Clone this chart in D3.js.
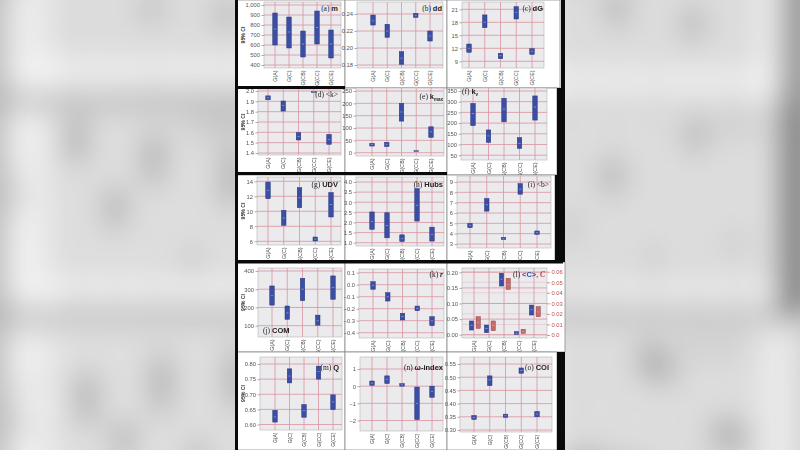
<!DOCTYPE html>
<html><head><meta charset="utf-8">
<script src="https://cdn.jsdelivr.net/npm/d3@7"></script>
<style>body{margin:0;background:#c8c8c8;overflow:hidden} svg{display:block}</style>
</head><body>
<svg id="c" width="800" height="450"></svg>
<script>
// ---------------- DATA ----------------
const categories = ["G(A)","G(C)","G(CB)","G(CC)","G(CE)"];

const mLow=[600,570,480,610,470], mHigh=[920,880,740,940,750], mMed=[760,730,610,775,610];
const mTicks=[400,500,600,700,800,900,1000];
const ddLow=[0.227,0.2126,0.1808,0.2361,0.2082], ddHigh=[0.2388,0.2279,0.1956,0.2408,0.22], ddMed=[0.232,0.220,0.188,0.2385,0.214];
const ddTicks=[0.18,0.20,0.22,0.24];
const dGLow=[11.08,16.75,9.6,18.76,10.6], dGHigh=[12.99,19.7,10.85,21.6,11.9], dGMed=[12,18,10.3,20.3,11.3];
const dGTicks=[9,12,15,18,21];
const kLow=[1.915,1.806,1.526,1.99,1.484], kHigh=[1.953,1.903,1.597,1.995,1.58], kMed=[1.935,1.86,1.56,1.993,1.53];
const kTicks=[1.4,1.5,1.6,1.7,1.8,1.9,2.0];
const kmaxLow=[27,25,128,5,62], kmaxHigh=[38,42,200,8,105], kmaxMed=[33,34,165,7,85];
const kmaxTicks=[0,50,100,150,200,250];
const kvLow=[188,110,206,82,214], kvHigh=[292,168,316,132,327], kvMed=[245,140,265,105,275];
const kvTicks=[50,100,150,200,250,300,350];
const udvLow=[11.68,8.13,10.48,6.04,9.24], udvHigh=[13.9,10.13,13.15,6.57,12.5], udvMed=[12.8,9.1,11.8,6.3,10.9];
const udvTicks=[6,8,10,12,14];
const hubsLow=[1.66,1.24,1.06,2.07,1.08], hubsHigh=[2.52,2.48,1.39,3.67,1.77], hubsMed=[2.05,1.85,1.2,2.85,1.4];
const hubsTicks=[1.0,1.5,2.0,2.5,3.0,3.5,4.0];
const bLow=[4.58,6.18,3.42,7.82,3.93], bHigh=[4.99,7.4,3.64,8.84,4.26], bMed=[4.8,6.8,3.5,8.3,4.1];
const bTicks=[3,4,5,6,7,8,9];
const comLow=[213,135,237,103,245], comHigh=[318,208,360,158,373], comMed=[265,170,300,127,310];
const comTicks=[100,200,300,400];
const rLow=[-0.038,-0.136,-0.294,-0.217,-0.342], rHigh=[0.025,-0.067,-0.238,-0.178,-0.267], rMed=[-0.005,-0.1,-0.265,-0.197,-0.3];
const rTicks=[-0.4,-0.3,-0.2,-0.1,0.0,0.1];
const cAvgLow=[0.015,0.0065,0.156,0.001,0.063], cAvgHigh=[0.044,0.031,0.197,0.01,0.095], cAvgMed=[0.03,0.02,0.178,0.005,0.08];
const cAvgTicks=[0.00,0.05,0.10,0.15,0.20];
const cGlobLow=[0.0063,0.0041,0.0433,0.0016,0.0173], cGlobHigh=[0.0173,0.0133,0.0537,0.0054,0.0268], cGlobMed=[0.012,0.009,0.048,0.0035,0.022];
const cGlobTicks=[0.0,0.01,0.02,0.03,0.04,0.05,0.06];
const qLow=[0.608,0.7375,0.624,0.75,0.649], qHigh=[0.647,0.784,0.666,0.793,0.698], qMed=[0.625,0.76,0.645,0.775,0.675];
const qTicks=[0.60,0.65,0.70,0.75,0.80];
const wLow=[0.05,0.15,0.0,-1.95,-0.65], wHigh=[0.3,0.6,0.15,-0.05,0.0], wMed=[0.17,0.4,0.08,-1.0,-0.3];
const wTicks=[-2,-1,0,1];
const coiLow=[0.34,0.468,0.348,0.515,0.35], coiHigh=[0.355,0.505,0.36,0.535,0.37], coiMed=[0.347,0.49,0.354,0.525,0.36];
const coiTicks=[0.30,0.35,0.40,0.45,0.50,0.55];

// ---------------- PANELS ----------------
const f2=d3.format(".2f"), f1=d3.format(".1f"), f0=d3.format(",");
const panels=[
 {id:"a",title:[["(a) ","p"],["m","b"]],low:mLow,high:mHigh,med:mMed,ticks:mTicks,fmt:f0},
 {id:"b",title:[["(b) ","p"],["dd","b"]],low:ddLow,high:ddHigh,med:ddMed,ticks:ddTicks,fmt:f2},
 {id:"c",title:[["(c) ","p"],["dG","b"]],low:dGLow,high:dGHigh,med:dGMed,ticks:dGTicks,fmt:f0},
 {id:"d",title:[["(d) ","p"],["<k>","p"]],low:kLow,high:kHigh,med:kMed,ticks:kTicks,fmt:f1},
 {id:"e",title:[["(e) ","p"],["k","b"],["max","sub"]],low:kmaxLow,high:kmaxHigh,med:kmaxMed,ticks:kmaxTicks,fmt:f0},
 {id:"f",title:[["(f) ","p"],["k","b"],["v","sub"]],low:kvLow,high:kvHigh,med:kvMed,ticks:kvTicks,fmt:f0},
 {id:"g",title:[["(g) ","p"],["UDV","b"]],low:udvLow,high:udvHigh,med:udvMed,ticks:udvTicks,fmt:f0},
 {id:"h",title:[["(h) ","p"],["Hubs","b"]],low:hubsLow,high:hubsHigh,med:hubsMed,ticks:hubsTicks,fmt:f1},
 {id:"i",title:[["(i) ","p"],["<b>","p"]],low:bLow,high:bHigh,med:bMed,ticks:bTicks,fmt:f0},
 {id:"j",title:[["(j) ","p"],["COM","b"]],low:comLow,high:comHigh,med:comMed,ticks:comTicks,fmt:f0},
 {id:"k",title:[["(k) ","p"],["r","bi"]],low:rLow,high:rHigh,med:rMed,ticks:rTicks,fmt:f1},
 {id:"l",title:[["(l) ","p"],["<C>","blue"],[", ","p"],["C","red"]],low:cAvgLow,high:cAvgHigh,med:cAvgMed,ticks:cAvgTicks,fmt:f2,
   low2:cGlobLow,high2:cGlobHigh,med2:cGlobMed,ticks2:cGlobTicks},
 {id:"m",title:[["(m) ","p"],["Q","b"]],low:qLow,high:qHigh,med:qMed,ticks:qTicks,fmt:f2},
 {id:"n",title:[["(n) ","p"],["ω-index","b"]],low:wLow,high:wHigh,med:wMed,ticks:wTicks,fmt:f0},
 {id:"o",title:[["(o) ","p"],["COI","b"]],low:coiLow,high:coiHigh,med:coiMed,ticks:coiTicks,fmt:f2}
];

// ---------------- LAYOUT (pixels) ----------------
const layout={
 a:{tile:[237,0,345,88],px:[264,341],py:[2,68],ty:[65,5],cx:[275,331],tt:[338,11,"end"],yl:true},
 b:{tile:[345,0,447,88],px:[357,443],py:[2,68],ty:[65,14],cx:[373,430],tt:[442,11,"end"]},
 c:{tile:[447,0,560,88],px:[462,544],py:[2,68],ty:[61.3,9.3],cx:[469,532],tt:[543,11,"end"]},
 d:{tile:[237,88,345,175],px:[258,341],py:[89,155],ty:[153,91],cx:[268,329],tt:[338,97,"end"],yl:true},
 e:{tile:[345,88,447,175],px:[356,444],py:[88,156],ty:[152.7,91],cx:[372,431],tt:[443,99,"end"]},
 f:{tile:[447,88,557,175],px:[461,547],py:[88,160],ty:[155.2,91],cx:[473,535],tt:[462,94,"start"]},
 g:{tile:[237,175,345,262],px:[257,341],py:[177,245],ty:[241.3,181.3],cx:[268,331],tt:[338,187,"end"],yl:true},
 h:{tile:[345,175,447,262],px:[356,444],py:[177,246],ty:[242.7,182],cx:[372,432],tt:[443,187,"end"]},
 i:{tile:[447,175,555,262],px:[457,551],py:[176,248],ty:[244,182],cx:[470,537],tt:[549,187,"end"]},
 j:{tile:[237,262,345,352],px:[258,342],py:[268,337],ty:[325.7,271],cx:[272,333],tt:[263,333,"start"],yl:true},
 k:{tile:[345,262,447,352],px:[359,444],py:[269,338],ty:[332.7,272.7],cx:[373,432],tt:[443,277,"end"]},
 l:{tile:[447,262,565,352],px:[462,547],py:[268,338],ty:[334.7,272.3],ty2:[335,271.7],cx:[474,534],tt:[545,277,"end"]},
 m:{tile:[237,352,345,450],px:[260,342],py:[357,430],ty:[424.5,364],cx:[275,333],tt:[339,370,"end"],yl:true},
 n:{tile:[345,352,447,450],px:[360,443],py:[357,431],ty:[420.5,369],cx:[372,432],tt:[443,370,"end"]},
 o:{tile:[447,352,557,450],px:[460,552],py:[357,432],ty:[430,364],cx:[474,537],tt:[549,370,"end"]}
};

// ---------------- DRAW ----------------
const svg=d3.select("#c");
const defs=svg.append("defs");
const flt=defs.append("filter").attr("id","bl").attr("x","-10%").attr("y","-10%").attr("width","120%").attr("height","120%");
flt.append("feGaussianBlur").attr("stdDeviation",15).attr("result","b");
flt.append("feColorMatrix").attr("in","b").attr("type","saturate").attr("values","0").attr("result","s");
const ct=flt.append("feComponentTransfer").attr("in","s");
["feFuncR","feFuncG","feFuncB"].forEach(n=>ct.append(n).attr("type","linear").attr("slope",0.8).attr("intercept",0.1));

svg.append("rect").attr("width",800).attr("height",450).attr("fill","#c8c8c8");
const bg=svg.append("g").attr("filter","url(#bl)");
bg.append("use").attr("href","#fig").attr("transform","translate(400,225) scale(2.45) translate(-400,-225)");

const fig=svg.append("g").attr("id","fig");
fig.append("rect").attr("x",237).attr("y",0).attr("width",328).attr("height",450).attr("fill","#ffffff");

const FONT="'Liberation Sans', Arial, sans-serif";
const BOX="#3b4ea3", BOXS="#26367f", MED="#a9b8e6", RED="#c46a6a", REDS="#9a3f3f", GRID="#d9939e";

function boxes(g,x,y,low,high,med,fill,stroke,off,w){
  g.selectAll(null).data(categories).join("rect")
    .attr("x",d=>x(d)+off-w/2).attr("width",w)
    .attr("y",(d,i)=>y(high[i]))
    .attr("height",(d,i)=>Math.max(0.8,y(low[i])-y(high[i])))
    .attr("fill",fill).attr("stroke",stroke).attr("stroke-width",0.5);
  g.selectAll(null).data(categories).join("line")
    .attr("x1",d=>x(d)+off-1.1).attr("x2",d=>x(d)+off+1.1)
    .attr("y1",(d,i)=>y(med[i])).attr("y2",(d,i)=>y(med[i]))
    .attr("stroke",MED).attr("stroke-width",0.6);
}

panels.forEach(p=>{
  const L=layout[p.id];
  const g=fig.append("g");
  const [tx0,ty0,tx1,ty1]=L.tile;
  g.append("rect").attr("x",tx0).attr("y",ty0).attr("width",tx1-tx0).attr("height",ty1-ty0)
    .attr("fill","#fff").attr("stroke","#8a8a8a").attr("stroke-width",0.8);
  const x=d3.scalePoint().domain(categories).range(L.cx);
  const y=d3.scaleLinear().domain([p.ticks[0],p.ticks[p.ticks.length-1]]).range(L.ty);
  g.append("rect").attr("x",L.px[0]).attr("y",L.py[0]).attr("width",L.px[1]-L.px[0]).attr("height",L.py[1]-L.py[0])
    .attr("fill","#ebebee").attr("stroke","#b4b4b4").attr("stroke-width",0.6);
  g.selectAll(null).data(p.ticks).join("line")
    .attr("x1",L.px[0]).attr("x2",L.px[1]).attr("y1",d=>y(d)).attr("y2",d=>y(d))
    .attr("stroke",GRID).attr("stroke-width",0.8);
  let y2=null;
  if(p.ticks2){
    y2=d3.scaleLinear().domain([p.ticks2[0],p.ticks2[p.ticks2.length-1]]).range(L.ty2);
    g.selectAll(null).data(p.ticks2).join("line")
      .attr("x1",L.px[0]).attr("x2",L.px[1]).attr("y1",d=>y2(d)).attr("y2",d=>y2(d))
      .attr("stroke",GRID).attr("stroke-width",0.5).attr("stroke-opacity",0.6);
  }
  g.selectAll(null).data(categories).join("line")
    .attr("x1",d=>x(d)).attr("x2",d=>x(d)).attr("y1",L.py[0]).attr("y2",L.py[1])
    .attr("stroke",GRID).attr("stroke-width",0.8);
  const ax=g.append("g").attr("transform",`translate(${L.px[0]},0)`)
    .call(d3.axisLeft(y).tickValues(p.ticks).tickFormat(p.fmt).tickSize(2.5).tickPadding(1.5));
  ax.select(".domain").remove();
  ax.selectAll("line").attr("stroke","#777").attr("stroke-width",0.6);
  ax.selectAll("text").attr("font-family",FONT).attr("font-size",5.8).attr("fill","#555");
  if(y2){
    const ax2=g.append("g").attr("transform",`translate(${L.px[1]},0)`)
      .call(d3.axisRight(y2).tickValues(p.ticks2).tickFormat(d=>d===0?"0.0":f2(d)).tickSize(3).tickPadding(1.5));
    ax2.select(".domain").remove();
    ax2.selectAll("line").attr("stroke",RED).attr("stroke-width",0.7);
    ax2.selectAll("text").attr("font-family",FONT).attr("font-size",5.8).attr("fill","#c0504d");
    boxes(g,x,y,p.low,p.high,p.med,BOX,BOXS,-2.5,4.2);
    boxes(g,x,y2,p.low2,p.high2,p.med2,RED,REDS,4.2,4.2);
  } else {
    boxes(g,x,y,p.low,p.high,p.med,BOX,BOXS,0,4.5);
  }
  const lab=L.py[1]>425?5.0:5.3;
  g.selectAll(null).data(categories).join("text")
    .attr("transform",d=>`translate(${x(d)+2},${L.py[1]+2.5}) rotate(-90)`)
    .attr("text-anchor","end").attr("font-family",FONT).attr("font-size",lab).attr("fill","#444")
    .text(d=>d);
  if(L.yl){
    g.append("text").attr("transform",`translate(${tx0+8},${(L.py[0]+L.py[1])/2}) rotate(-90)`)
      .attr("text-anchor","middle").attr("font-family",FONT).attr("font-size",5.2).attr("font-weight","bold").attr("fill","#333")
      .text("95% CI");
  }
  const t=g.append("text").attr("x",L.tt[0]).attr("y",L.tt[1]).attr("text-anchor",L.tt[2])
    .attr("font-size",7.5).attr("fill","#222");
  p.title.forEach(([s,st])=>{
    const ts=t.append("tspan").text(s);
    if(st==="p") ts.attr("font-family","'Liberation Serif', serif");
    if(st==="b") ts.attr("font-family",FONT).attr("font-weight","bold");
    if(st==="bi") ts.attr("font-family","'Liberation Serif', serif").attr("font-weight","bold").attr("font-style","italic");
    if(st==="sub") ts.attr("font-family",FONT).attr("font-weight","bold").attr("font-size",4.5).attr("dy",1.5);
    if(st==="blue") ts.attr("font-family",FONT).attr("font-weight","bold").attr("fill","#3b4ea3");
    if(st==="red") ts.attr("font-family","'Liberation Serif', serif").attr("font-style","italic").attr("font-weight","bold").attr("fill","#d03030");
  });
});

const blk=[[235,0,3,450],[237,86,108,3],[237,172,210,3],[237,260,326,3.5],[557,88,8,174],[555,175,10,87],[557,352,8,98],[561,0,4,88]];
fig.selectAll(null).data(blk).join("rect")
  .attr("x",d=>d[0]).attr("y",d=>d[1]).attr("width",d=>d[2]).attr("height",d=>d[3]).attr("fill","#0a0a0a");
</script>
</body></html>
